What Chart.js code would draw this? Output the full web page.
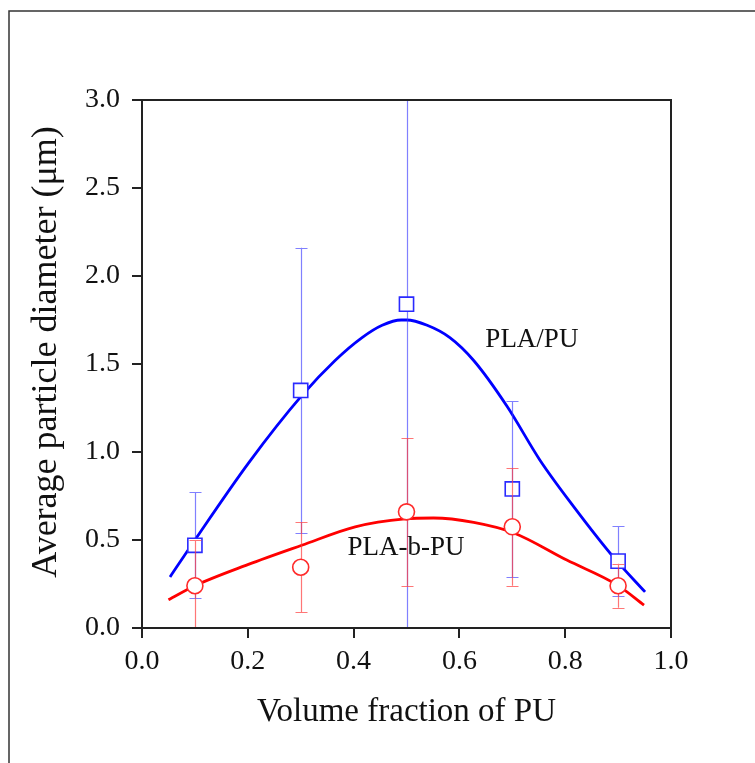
<!DOCTYPE html>
<html>
<head>
<meta charset="utf-8">
<script src="https://cdn.jsdelivr.net/npm/chart.js@4.4.1/dist/chart.umd.min.js"></script>
<style>
html,body{margin:0;padding:0;background:#fff;}
#wrap{width:755px;height:763px;}
</style>
</head>
<body>
<div id="wrap"><canvas id="c" width="755" height="763"></canvas></div>
<script>
// ---- data ----
const volumeFraction = [0.1, 0.3, 0.5, 0.7, 0.9];
const plaPuMean = [0.47, 1.35, 1.84, 0.79, 0.38];
const plaPuErr = [0.30, 0.81, 1.90, 0.50, 0.20];
const plaBPuMean = [0.24, 0.345, 0.66, 0.575, 0.24];
const plaBPuErr = [0.26, 0.255, 0.42, 0.335, 0.125];

const plaPuFitX = [0.053, 0.10, 0.202, 0.302, 0.365, 0.416, 0.454, 0.49, 0.50, 0.539, 0.582, 0.627, 0.69, 0.752, 0.816, 0.892, 0.951];
const plaPuFitY = [0.29, 0.50, 0.94, 1.32, 1.52, 1.65, 1.72, 1.75, 1.75, 1.72, 1.65, 1.52, 1.26, 0.955, 0.69, 0.40, 0.205];
const plaBPuFitX = [0.05, 0.10, 0.20, 0.302, 0.403, 0.497, 0.551, 0.627, 0.703, 0.803, 0.898, 0.949];
const plaBPuFitY = [0.16, 0.24, 0.36, 0.47, 0.575, 0.62, 0.625, 0.60, 0.54, 0.386, 0.245, 0.13];

const xTickLabels = ['0.0', '0.2', '0.4', '0.6', '0.8', '1.0'];
const yTickLabels = ['0.0', '0.5', '1.0', '1.5', '2.0', '2.5', '3.0'];
const seriesNames = ['PLA/PU', 'PLA-b-PU'];
const xTitle = 'Volume fraction of PU';
const yTitle = 'Average particle diameter (μm)';

const toXY = (xs, ys) => xs.map((x, i) => ({x: x, y: ys[i]}));

const BLUE = '#0000ff', RED = '#ff0000';
const FONT = "'Liberation Serif', 'Times New Roman', serif";

const framePlugin = {
  id: 'frame',
  beforeDraw(chart) {
    const ctx = chart.ctx;
    ctx.save();
    ctx.strokeStyle = '#333';
    ctx.lineWidth = 1.5;
    ctx.strokeRect(9, 11, 1000, 1000);
    ctx.restore();
  },
  afterDraw(chart) {
    const a = chart.chartArea, ctx = chart.ctx;
    ctx.save();
    ctx.strokeStyle = '#222';
    ctx.lineWidth = 2;
    ctx.strokeRect(a.left, a.top, a.right - a.left, a.bottom - a.top);
    // y axis title (rotated)
    ctx.fillStyle = '#111';
    ctx.font = "36px " + FONT;
    ctx.textAlign = 'center';
    ctx.textBaseline = 'middle';
    ctx.translate(47, (a.top + a.bottom) / 2 - 12);
    ctx.rotate(-Math.PI / 2);
    ctx.fillText(yTitle, 0, 0);
    ctx.restore();
  }
};

const errPlugin = {
  id: 'errbars',
  beforeDatasetDraw(chart, args) {
    const ds = chart.data.datasets[args.index];
    if (!ds.errors) return;
    const xs = chart.scales.x, ys = chart.scales.y, a = chart.chartArea;
    const ctx = chart.ctx;
    ctx.save();
    ctx.beginPath();
    ctx.rect(a.left, a.top, a.right - a.left, a.bottom - a.top);
    ctx.clip();
    ctx.strokeStyle = ds.errColor;
    ctx.lineWidth = 1.2;
    ds.data.forEach((p, i) => {
      const e = ds.errors[i];
      const px = Math.round(xs.getPixelForValue(p.x)) + 0.5;
      const yt = ys.getPixelForValue(p.y + e);
      const yb = ys.getPixelForValue(p.y - e);
      ctx.beginPath();
      ctx.moveTo(px, yt); ctx.lineTo(px, yb);
      ctx.moveTo(px - 6, Math.round(yt) + 0.5); ctx.lineTo(px + 6, Math.round(yt) + 0.5);
      ctx.moveTo(px - 6, Math.round(yb) + 0.5); ctx.lineTo(px + 6, Math.round(yb) + 0.5);
      ctx.stroke();
    });
    ctx.restore();
  }
};

const labelPlugin = {
  id: 'labels',
  afterDatasetsDraw(chart, args, opts) {
    const xs = chart.scales.x, ys = chart.scales.y, ctx = chart.ctx;
    ctx.save();
    ctx.fillStyle = '#111';
    ctx.font = "27px " + FONT;
    ctx.textAlign = 'center';
    ctx.textBaseline = 'middle';
    opts.items.forEach(it => {
      ctx.fillText(it.text, xs.getPixelForValue(it.x), ys.getPixelForValue(it.y));
    });
    ctx.restore();
  }
};

new Chart(document.getElementById('c'), {
  type: 'scatter',
  data: {
    datasets: [
      {
        label: seriesNames[0] + ' fit', type: 'line',
        data: toXY(plaPuFitX, plaPuFitY),
        borderColor: BLUE, borderWidth: 2.8, pointRadius: 0,
        cubicInterpolationMode: 'monotone', fill: false, order: 5
      },
      {
        label: seriesNames[0],
        data: toXY(volumeFraction, plaPuMean),
        errors: plaPuErr, errColor: 'rgba(60,60,255,0.65)',
        pointStyle: 'rect', pointRadius: 10, pointBorderWidth: 1.6,
        borderColor: '#2a2aff', backgroundColor: '#ffffff', order: 4
      },
      {
        label: seriesNames[1] + ' fit', type: 'line',
        data: toXY(plaBPuFitX, plaBPuFitY),
        borderColor: RED, borderWidth: 2.8, pointRadius: 0,
        cubicInterpolationMode: 'monotone', fill: false, order: 3
      },
      {
        label: seriesNames[1],
        data: toXY(volumeFraction, plaBPuMean),
        errors: plaBPuErr, errColor: 'rgba(255,60,60,0.7)',
        pointStyle: 'circle', pointRadius: 8, pointBorderWidth: 1.6,
        borderColor: '#ff2a2a', backgroundColor: '#ffffff', order: 2
      }
    ]
  },
  options: {
    responsive: false,
    animation: false,
    layout: {padding: {top: 100, right: 84, left: 0, bottom: 0}},
    plugins: {
      legend: {display: false},
      tooltip: {enabled: false},
      labels: {items: [
        {text: seriesNames[0], x: 0.737, y: 1.636},
        {text: seriesNames[1], x: 0.499, y: 0.455}
      ]}
    },
    scales: {
      x: {
        type: 'linear', min: 0, max: 1,
        afterFit(s) { s.height = 135; },
        afterBuildTicks(s) { s.ticks = xTickLabels.map(t => ({value: parseFloat(t)})); },
        ticks: {
          callback: (v, i) => xTickLabels[i],
          color: '#111', padding: 7,
          font: {family: FONT, size: 28}, maxRotation: 0, autoSkip: false
        },
        grid: {drawOnChartArea: false, drawTicks: true, tickLength: 10, color: '#222', lineWidth: 2},
        border: {display: true, color: '#222', width: 2},
        title: {
          display: true, text: xTitle, color: '#111',
          font: {family: FONT, size: 33}, padding: {top: 0, bottom: 31}
        }
      },
      y: {
        type: 'linear', min: 0, max: 3,
        afterFit(s) { s.width = 142; },
        afterBuildTicks(s) { s.ticks = yTickLabels.map(t => ({value: parseFloat(t)})); },
        ticks: {
          callback: (v, i) => yTickLabels[i],
          color: '#111', padding: 12,
          font: {family: FONT, size: 28}, autoSkip: false
        },
        grid: {drawOnChartArea: false, drawTicks: true, tickLength: 10, color: '#222', lineWidth: 2},
        border: {display: true, color: '#222', width: 2},
        title: {display: false}
      }
    }
  },
  plugins: [framePlugin, errPlugin, labelPlugin]
});
</script>
</body>
</html>
